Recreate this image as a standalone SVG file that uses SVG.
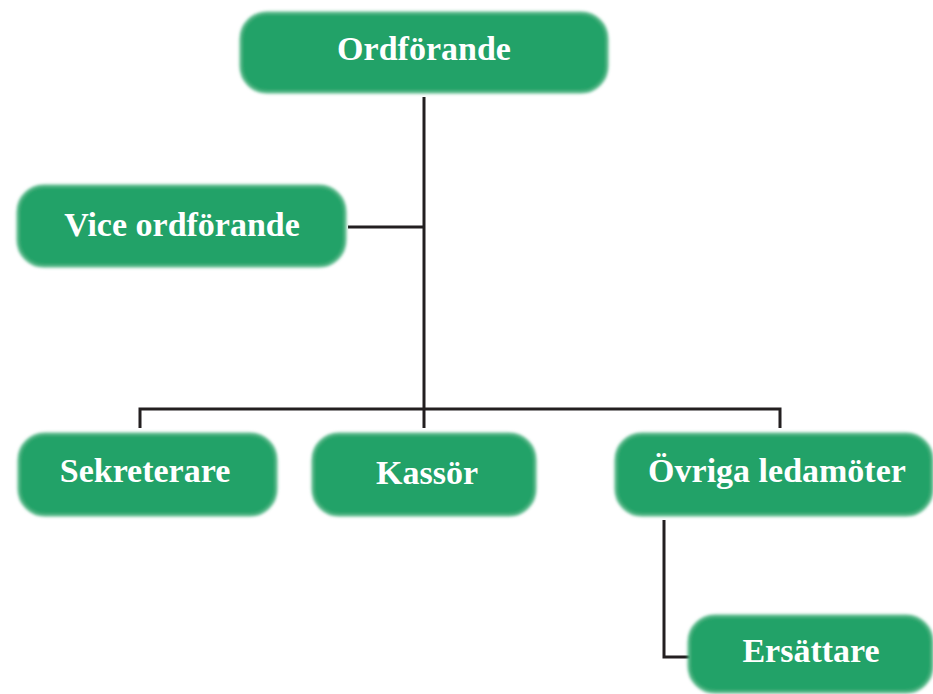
<svg xmlns="http://www.w3.org/2000/svg" width="933" height="694" viewBox="0 0 933 694">
<defs>
<filter id="soft" x="-5%" y="-10%" width="110%" height="120%">
<feGaussianBlur stdDeviation="1.6"/>
</filter>
<style>
.box{fill:#21a268;stroke:#4fb584;stroke-width:3;filter:url(#soft);}
.lbl{font-family:"Liberation Serif","Times New Roman",serif;font-weight:bold;font-size:34px;fill:#ffffff;text-anchor:middle;}
.conn{fill:none;stroke:#231f20;stroke-width:3;}
</style>
</defs>
<rect width="933" height="694" fill="#ffffff"/>
<g id="connectors">
<path class="conn" d="M424 97 V428"/>
<path class="conn" d="M348 227 H424"/>
<path class="conn" d="M140 428 V409 H780 V428"/>
<path class="conn" d="M664 520 V657 H690"/>
</g>
<g id="ordforande">
<rect class="box" x="241" y="13" width="366" height="79" rx="26"/>
<text class="lbl" x="424" y="60">Ordförande</text>
</g>
<g id="vice">
<rect class="box" x="18" y="186" width="327" height="80" rx="26"/>
<text class="lbl" x="182" y="236">Vice ordförande</text>
</g>
<g id="sekreterare">
<rect class="box" x="19" y="434" width="257" height="81" rx="26"/>
<text class="lbl" x="145" y="482">Sekreterare</text>
</g>
<g id="kassor">
<rect class="box" x="313" y="434" width="222" height="81" rx="26"/>
<text class="lbl" x="427" y="484">Kassör</text>
</g>
<g id="ovriga">
<rect class="box" x="616" y="434" width="316" height="81" rx="26"/>
<text class="lbl" x="777" y="482">Övriga ledamöter</text>
</g>
<g id="ersattare">
<rect class="box" x="689" y="616" width="243" height="76" rx="26"/>
<text class="lbl" x="811" y="662">Ersättare</text>
</g>
</svg>
